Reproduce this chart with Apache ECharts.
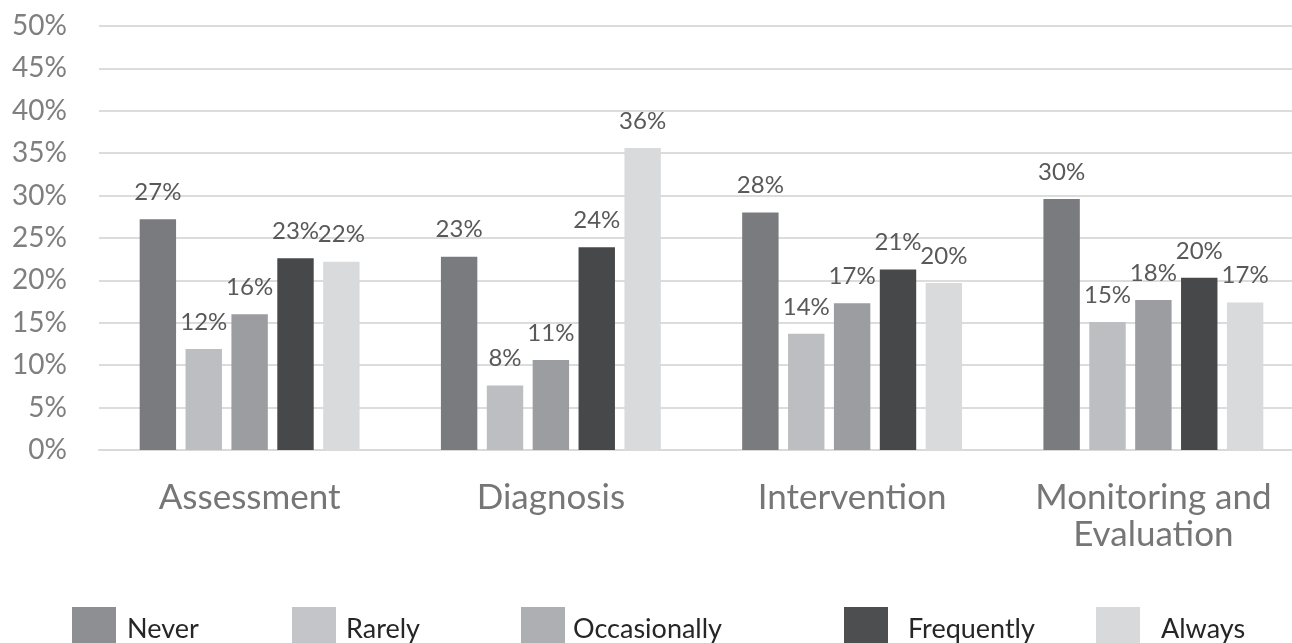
<!DOCTYPE html>
<html>
<head>
<meta charset="utf-8">
<title>Frequency by process stage</title>
<script src="https://cdn.jsdelivr.net/npm/echarts@6/dist/echarts.min.js"></script>
<style>
  html, body { margin: 0; padding: 0; background: #ffffff; overflow: hidden; }
  /* the plot runs a little past the right edge of the window */
  #chart { width: 1320px; height: 643px; }
</style>
</head>
<body>
<div id="chart"></div>
<script>
// Stages shown along the x axis
const categories = ['Assessment', 'Diagnosis', 'Intervention', 'Monitoring and\nEvaluation'];

// Response shares (%) per stage, one array per answer
const never        = [27.2, 22.8, 28.0, 29.6];
const rarely       = [11.9,  7.6, 13.7, 15.1];
const occasionally = [16.0, 10.6, 17.3, 17.7];
const frequently   = [22.6, 23.9, 21.3, 20.3];
const always       = [22.2, 35.6, 19.7, 17.4];

const seriesNames = ['Never', 'Rarely', 'Occasionally', 'Frequently', 'Always'];
const yTicks = [0, 5, 10, 15, 20, 25, 30, 35, 40, 45, 50];

// Styling
const FONT = 'Lato';
const barColors    = ['#7a7b7f', '#bdbec2', '#9c9da1', '#474849', '#d9dadc'];
const legendColors = ['#8e8f93', '#c4c5c8', '#aeafb2', '#4d4e50', '#d8d9db'];
// legend placement: left edge of swatch, gap between swatch and text
const legendLeft = [72, 292, 521, 844, 1096];
const legendTextGap = [11, 10, 8, 20, 21];

const values = [never, rarely, occasionally, frequently, always];

const series = seriesNames.map((name, i) => ({
  name: name,
  type: 'bar',
  data: values[i],
  barCategoryGap: '27%',
  barGap: '26%',
  itemStyle: { color: barColors[i] },
  label: {
    show: true,
    position: 'top',
    distance: 15,
    fontFamily: FONT,
    fontSize: 24,
    color: '#595959',
    formatter: p => Math.round(p.value) + '%'
  }
}));

const legends = seriesNames.map((name, i) => ({
  data: [{ name: name, itemStyle: { color: legendColors[i] } }],
  left: legendLeft[i],
  top: 607,
  padding: 0,
  itemWidth: 44,
  itemHeight: 44,
  icon: 'rect',
  selectedMode: false,
  textStyle: {
    fontFamily: FONT,
    fontSize: 27,
    color: '#262626',
    padding: [6, 0, 0, legendTextGap[i] - 5]
  }
}));

const chart = echarts.init(document.getElementById('chart'), null, { renderer: 'canvas' });
chart.setOption({
  backgroundColor: '#ffffff',
  animation: false,
  textStyle: { fontFamily: FONT },
  grid: { left: 99, top: 26, width: 1205, height: 424, containLabel: false, outerBoundsMode: 'none' },
  legend: legends,
  xAxis: {
    type: 'category',
    data: categories,
    axisTick: { show: false },
    axisLine: { lineStyle: { color: '#d9d9d9', width: 2 } },
    axisLabel: {
      fontFamily: FONT,
      fontSize: 35,
      lineHeight: 37,
      color: '#767676',
      margin: 29,
      interval: 0
    }
  },
  yAxis: {
    type: 'value',
    min: yTicks[0],
    max: yTicks[yTicks.length - 1],
    interval: yTicks[1] - yTicks[0],
    axisLine: { show: false },
    axisTick: { show: false },
    splitLine: { lineStyle: { color: '#dcdcdc', width: 2 } },
    axisLabel: {
      fontFamily: FONT,
      fontSize: 28,
      color: '#7f7f7f',
      margin: 32,
      formatter: '{value}%'
    }
  },
  series: series
});
</script>
</body>
</html>
